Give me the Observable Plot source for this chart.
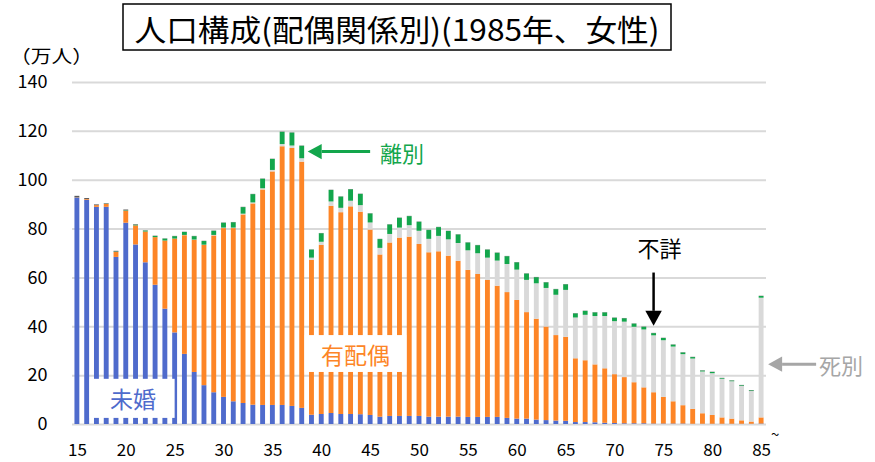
<!DOCTYPE html>
<html><head><meta charset="utf-8">
<script src="https://cdn.jsdelivr.net/npm/d3@7"></script>
<script src="https://cdn.jsdelivr.net/npm/@observablehq/plot@0.6"></script>
<style>
body{margin:0;background:#fff;}
#chart{position:relative;width:875px;height:462px;}
</style></head><body><div id="chart"></div>
<script>
const ages = [15,16,17,18,19,20,21,22,23,24,25,26,27,28,29,30,31,32,33,34,35,36,37,38,39,40,41,42,43,44,45,46,47,48,49,50,51,52,53,54,55,56,57,58,59,60,61,62,63,64,65,66,67,68,69,70,71,72,73,74,75,76,77,78,79,80,81,82,83,84,85];
const xTickAges = [15,20,25,30,35,40,45,50,55,60,65,70,75,80,85];
const yTicks = [0,20,40,60,80,100,120,140];
const statuses = ["未婚","有配偶","死別","離別","不詳"];
const colors = ["#4f6bcc","#fd8526","#d9d9d9","#13a64c","#5a5a5a"];

const unmarried = [92.7,91.8,88.9,88.9,68.4,82.4,73.5,66.2,57.0,47.2,37.5,28.7,21.3,15.9,13.0,11.1,9.3,8.6,7.9,7.8,7.8,7.8,7.4,6.6,3.8,4.1,4.5,4.1,4.1,4.0,3.7,3.0,3.3,3.3,3.3,3.3,3.0,3.0,3.0,3.0,2.9,2.9,2.9,2.9,2.5,2.2,2.2,1.8,1.6,1.4,1.3,0.8,0.8,0.7,0.5,0.4,0.3,0.3,0.3,0.2,0.2,0.2,0.2,0.1,0.1,0.1,0.1,0.1,0.1,0.1,0.2];
const married = [0.1,0.3,0.7,1.2,2.0,4.9,7.8,12.6,19.5,27.9,38.4,48.6,54.1,57.4,64.2,69.1,70.9,77.2,82.4,88.2,95.6,105.9,105.6,100.8,63.4,69.2,84.8,82.6,85.0,82.9,75.9,66.4,71.0,73.0,73.4,70.4,67.3,67.7,65.9,63.8,60.2,58.5,56.1,53.7,51.5,48.6,43.6,41.3,38.3,35.0,34.4,26.1,25.3,23.7,22.3,20.0,18.9,16.8,14.7,12.8,10.9,9.1,7.5,6.1,4.3,3.6,2.6,2.1,1.4,0.9,2.5];
const widowed = [0,0,0,0,0,0,0,0,0,0,0,0.1,0.1,0.1,0.2,0.2,0.2,0.3,0.4,0.5,0.6,0.9,1.0,1.4,0.9,1.3,1.8,1.8,2.3,2.7,2.9,2.7,3.5,4.1,4.7,5.4,5.5,6.3,6.7,7.3,8.0,8.5,9.1,10.3,11.5,12.4,13.2,14.5,15.8,16.5,19.2,16.7,18.6,19.8,21.4,21.7,22.7,22.7,23.7,23.3,23.2,22.4,20.9,20.6,17.1,17.1,15.8,15.3,14.1,12.5,49.0];
const divorced = [0,0,0,0.1,0.2,0.2,0.3,0.4,0.5,0.8,1.0,1.2,1.4,1.5,1.7,2.0,2.2,2.7,3.4,3.9,4.5,5.0,5.3,5.1,3.3,3.5,4.7,4.6,4.7,4.6,3.7,3.6,3.9,4.0,3.7,3.7,3.6,3.6,3.4,3.5,3.2,3.3,3.3,3.2,3.2,3.0,2.6,2.5,2.3,2.3,2.3,1.7,1.6,1.5,1.5,1.4,1.4,1.3,1.1,0.9,0.9,0.8,0.7,0.6,0.4,0.5,0.3,0.3,0.3,0.3,0.7];
const unknown = [0.6,0.4,0.3,0.2,0.3,0.3,0.2,0.1,0.1,0.1,0.1,0.1,0.1,0.1,0.1,0.1,0.1,0.1,0.1,0.1,0.1,0.1,0.1,0.1,0.1,0.1,0.1,0.1,0.1,0.1,0.1,0.1,0.1,0.1,0.1,0.1,0.1,0.1,0.1,0.1,0.1,0.1,0.1,0.1,0.1,0.1,0.1,0.1,0.1,0.1,0.1,0.1,0.1,0.1,0.1,0.1,0.1,0.1,0.1,0.1,0.1,0.1,0.1,0.1,0.1,0.1,0.1,0.1,0.1,0.1,0.1];

const series = [unmarried, married, widowed, divorced, unknown];
const table = [];
statuses.forEach((s, i) => ages.forEach((a, j) => table.push({age: a, status: s, value: series[i][j]})));

const FONT = "'Noto Sans CJK JP', 'Noto Sans', sans-serif";

const plot = Plot.plot({
  width: 875,
  height: 462,
  marginLeft: 72,
  marginRight: 109,
  marginTop: 82,
  marginBottom: 38,
  style: {fontFamily: FONT, background: "#fff"},
  x: {type: "band", domain: ages, paddingInner: 0.5, paddingOuter: 0.25, label: null},
  y: {domain: [0, 140], label: null},
  color: {domain: statuses, range: colors},
  marks: [
    Plot.ruleY(yTicks, {stroke: "#d9d9d9", strokeWidth: 2}),
    Plot.barY(table, {x: "age", y: "value", fill: "status", order: statuses}),
    Plot.axisY({ticks: yTicks, tickSize: 0, tickPadding: 25, fontSize: 18, label: null, fill: "#000"}),
    Plot.axisX({ticks: xTickAges, tickSize: 0, tickPadding: 19, fontSize: 17, label: null, fill: "#000"})
  ]
});
document.getElementById("chart").appendChild(plot);

const svg = d3.select(plot);
const X = plot.scale("x"), Y = plot.scale("y");
const bw = X.bandwidth;
const xc = a => X.apply(a) + bw / 2;

function txt(x, y, s, size, color, anchor) {
  return svg.append("text").attr("x", x).attr("y", y).attr("text-anchor", anchor)
    .attr("dominant-baseline", "central").attr("font-size", size)
    .attr("font-family", FONT).attr("fill", color).text(s);
}

// Title
svg.append("rect").attr("x", 123).attr("y", 4).attr("width", 548).attr("height", 46)
  .attr("fill", "#fff").attr("stroke", "#000").attr("stroke-width", 1.5);
txt(397, 28, "人口構成(配偶関係別)(1985年、女性)", 30, "#000", "middle")
  .attr("textLength", 525).attr("lengthAdjust", "spacingAndGlyphs");
// Unit
txt(10, 55, "（万人）", 18, "#000", "start")
  .attr("textLength", 83).attr("lengthAdjust", "spacingAndGlyphs");
// tilde after 85
svg.append("text").attr("x", xc(85) + 10).attr("y", 440).attr("text-anchor", "start")
  .attr("font-size", 15).attr("font-family", FONT).text("~");

// label boxes
const u1 = X.apply(16) + bw + 0.5, u2 = xc(25);
svg.append("rect").attr("x", u1).attr("y", Y.apply(18.5)).attr("width", u2 - u1)
  .attr("height", Y.apply(2.5) - Y.apply(18.5)).attr("fill", "#fff");
txt(133, (Y.apply(18.5) + Y.apply(2.5)) / 2, "未婚", 23, colors[0], "middle");

const m1 = X.apply(38) + bw + 0.5, m2 = X.apply(49) - 0.5;
svg.append("rect").attr("x", m1).attr("y", Y.apply(36.4)).attr("width", m2 - m1)
  .attr("height", Y.apply(21.3) - Y.apply(36.4)).attr("fill", "#fff");
txt((m1 + m2) / 2, (Y.apply(36.4) + Y.apply(21.3)) / 2, "有配偶", 23, colors[1], "middle");

// arrows
function arrow(x1, y1, x2, y2, color, w, head) {
  const ang = Math.atan2(y2 - y1, x2 - x1);
  const bx = x2 - Math.cos(ang) * head, by = y2 - Math.sin(ang) * head;
  svg.append("line").attr("x1", x1).attr("y1", y1).attr("x2", bx).attr("y2", by)
    .attr("stroke", color).attr("stroke-width", w);
  const px = -Math.sin(ang) * head * 0.55, py = Math.cos(ang) * head * 0.55;
  svg.append("path").attr("d", `M${x2},${y2}L${bx + px},${by + py}L${bx - px},${by - py}Z`).attr("fill", color);
}
const green = "#13a64c";
arrow(xc(45), Y.apply(111.5), xc(38) + 6, Y.apply(111.5), green, 3, 14);
txt(xc(46), Y.apply(111.5), "離別", 22, green, "start");

arrow(xc(74), Y.apply(62), xc(74), Y.apply(40.2), "#000", 2.5, 15);
txt(xc(74) + 6, Y.apply(72.4), "不詳", 22, "#000", "middle");

const gray = "#a6a6a6";
arrow(xc(85) + 55, Y.apply(24.5), xc(85) + 7, Y.apply(24.5), gray, 3, 14);
txt(xc(85) + 58, Y.apply(24.5), "死別", 22, gray, "start");
</script></body></html>
